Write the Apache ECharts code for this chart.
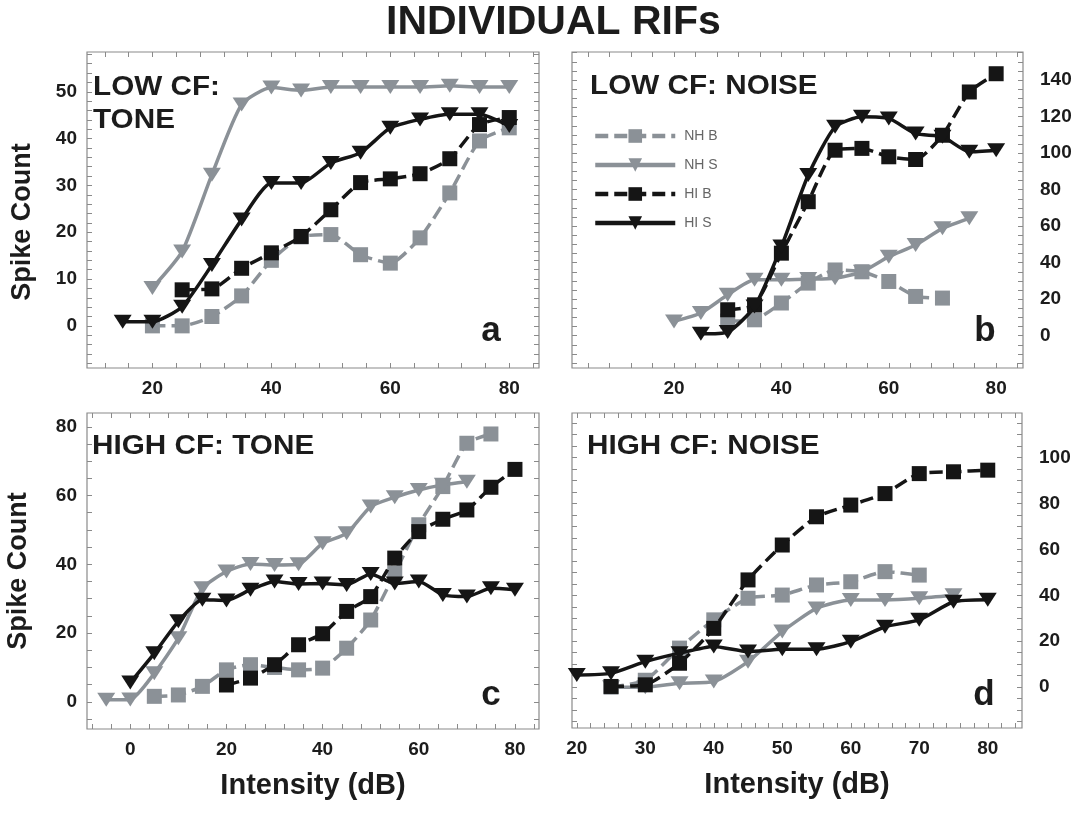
<!DOCTYPE html>
<html>
<head>
<meta charset="utf-8">
<script src="https://cdn.jsdelivr.net/npm/echarts@6/dist/echarts.min.js"></script>
<style>
html,body{margin:0;padding:0;background:#ffffff;}
#chart{width:1082px;height:815px;}
</style>
</head>
<body>
<div id="chart"></div>
<script>
// ---------- DATA ----------
const seriesNames = ['NH B', 'NH S', 'HI B', 'HI S'];

// Panel a: LOW CF: TONE
const aNHBx = [20,25,30,35,40,45,50,55,60,65,70,75,80];
const aNHBy = [0,0,2,6.4,14,19,19.5,15.2,13.4,18.8,28.4,39.5,42.3];
const aNHSx = [20,25,30,35,40,45,50,55,60,65,70,75,80];
const aNHSy = [8.1,15.9,32.3,47.3,50.9,50.3,51,51,51,51,51.3,51,51];
const aHIBx = [25,30,35,40,45,50,55,60,65,70,75,80];
const aHIBy = [7.7,7.9,12.3,15.6,19.1,24.8,30.6,31.4,32.5,35.7,43,44.5];
const aHISx = [15,20,25,30,35,40,45,50,55,60,65,70,75,80];
const aHISy = [0.9,0.9,4.1,13,22.7,30.5,30.5,34.8,37,42.3,44.1,45.2,45.2,42.7];

// Panel b: LOW CF: NOISE
const bNHBx = [30,35,40,45,50,55,60,65,70];
const bNHBy = [8,8.7,17.9,28.8,36,35,29.7,21.5,20.6];
const bNHSx = [20,25,30,35,40,45,50,55,60,65,70,75];
const bNHSy = [7.8,12.4,22.4,30.6,30.6,31,31.5,35,43.3,49.7,58.8,64.3];
const bHIBx = [30,35,40,45,50,55,60,65,70,75,80];
const bHIBy = [14.2,16.9,45.2,73.4,101.6,102.6,98,96.5,109.8,133.5,143.5];
const bHISx = [25,30,35,40,45,50,55,60,65,70,75,80];
const bHISy = [1,2,16,48.8,88,114.4,119.9,119,110.7,109,100.7,101.6];

// Panel c: HIGH CF: TONE
const cNHBx = [5,10,15,20,25,30,35,40,45,50,55,60,65,70,75];
const cNHBy = [1.6,2,4.5,9.3,10.8,10,9.3,9.8,15.6,23.8,37.4,51.5,62.6,75.2,77.9];
const cNHSx = [-5,0,5,10,15,20,25,30,35,40,45,50,55,60,65,70];
const cNHSy = [0.6,0.7,8.3,18.5,33,37.9,40.1,39.8,40,46.1,49,56.8,59.5,61.6,63.1,64];
const cHIBx = [20,25,30,35,40,45,50,55,60,65,70,75,80];
const cHIBy = [4.9,6.9,10.8,16.6,19.8,26.3,30.6,41.8,49.5,53.1,55.8,62.4,67.6];
const cHISx = [0,5,10,15,20,25,30,35,40,45,50,55,60,65,70,75,80];
const cHISy = [5.6,14.1,23.4,29.7,29.5,32.6,35,34.3,34.4,34,37.2,34.4,35,31.1,30.6,33,32.6];

// Panel d: HIGH CF: NOISE
const dNHBx = [25,30,35,40,45,50,55,60,65,70];
const dNHBy = [0,3,17,29.3,38.7,40.1,44.5,45.9,50.3,48.8];
const dNHSx = [25,30,35,40,45,50,55,60,65,70,75];
const dNHSy = [0,0,1.7,2.4,11.1,24.2,34.3,38,38,38.7,40];
const dHIBx = [25,30,35,40,45,50,55,60,65,70,75,80];
const dHIBy = [0.3,1,10.4,25.6,46.7,61.9,74.2,79.3,84.3,93,93.8,94.5];
const dHISx = [20,25,30,35,40,45,50,55,60,65,70,75,80];
const dHISy = [5.3,6,11.1,14.8,17.7,15.5,16.5,16.5,19.8,26.3,29.3,37.2,38.1];

// Tick labels
const xLabelsA = [20,40,60,80];
const yLabelsA = [0,10,20,30,40,50];
const xLabelsB = [20,40,60,80];
const yLabelsB = [0,20,40,60,80,100,120,140];
const xLabelsC = [0,20,40,60,80];
const yLabelsC = [0,20,40,60,80];
const xLabelsD = [20,30,40,50,60,70,80];
const yLabelsD = [0,20,40,60,80,100];

const panelTitles = ['LOW CF:\nTONE', 'LOW CF: NOISE', 'HIGH CF: TONE', 'HIGH CF: NOISE'];
const panelLetters = ['a', 'b', 'c', 'd'];
const mainTitle = 'INDIVIDUAL RIFs';
const yAxisTitle = 'Spike Count';
const xAxisTitle = 'Intensity (dB)';

// ---------- BUILD ----------
const FONT = '"Liberation Sans", Arial, Helvetica, sans-serif';
const GRAY = '#8b9197';
const BLACK = '#151515';
const TXT = '#1c1c1c';
const FRAME = '#8a8a8a';

function zip(xs, ys) { return xs.map((x, i) => [x, ys[i]]); }
function tickRange(min, max, step) {
  const out = [];
  for (let v = Math.ceil(min / step) * step; v <= max + 1e-9; v += step) out.push(+v.toFixed(6));
  return out;
}

const styleOf = {
  'NH B': { color: GRAY, type: [13, 6], symbol: 'rect', size: 15, rot: 0 },
  'NH S': { color: GRAY, type: 'solid', symbol: 'triangle', size: [18, 14], rot: 180 },
  'HI B': { color: BLACK, type: [13, 6], symbol: 'rect', size: 15, rot: 0 },
  'HI S': { color: BLACK, type: 'solid', symbol: 'triangle', size: [18, 14], rot: 180 }
};

const panels = [
  { grid: { left: 87, top: 52, width: 452, height: 316 }, xMin: 9, xMax: 85, yMin: -9, yMax: 58.5,
    xLabels: xLabelsA, yLabels: yLabelsA, xStep: 4, yStep: 2, ySide: 'left', yName: yAxisTitle, xName: '',
    namePad: [0, 24, 0, 0], nameGap: 51,
    data: [zip(aNHBx, aNHBy), zip(aNHSx, aNHSy), zip(aHIBx, aHIBy), zip(aHISx, aHISy)] },
  { grid: { left: 572, top: 52, width: 451, height: 316 }, xMin: 1, xMax: 85, yMin: -17.7, yMax: 155.4,
    xLabels: xLabelsB, yLabels: yLabelsB, xStep: 4, yStep: 5, ySide: 'right', yName: '', xName: '',
    namePad: 0, nameGap: 55,
    data: [zip(bNHBx, bNHBy), zip(bNHSx, bNHSy), zip(bHIBx, bHIBy), zip(bHISx, bHISy)] },
  { grid: { left: 87, top: 413, width: 452, height: 316 }, xMin: -9, xMax: 85, yMin: -7.9, yMax: 84,
    xLabels: xLabelsC, yLabels: yLabelsC, xStep: 4, yStep: 5, ySide: 'left', yName: yAxisTitle, xName: xAxisTitle,
    namePad: 0, nameGap: 55,
    data: [zip(cNHBx, cNHBy), zip(cNHSx, cNHSy), zip(cHIBx, cHIBy), zip(cHISx, cHISy)] },
  { grid: { left: 572, top: 413, width: 450, height: 315 }, xMin: 19.3, xMax: 85, yMin: -17.8, yMax: 119.4,
    xLabels: xLabelsD, yLabels: yLabelsD, xStep: 2, yStep: 5, ySide: 'right', yName: '', xName: xAxisTitle,
    namePad: 0, nameGap: 55,
    data: [zip(dNHBx, dNHBy), zip(dNHSx, dNHSy), zip(dHIBx, dHIBy), zip(dHISx, dHISy)] }
];

const grids = [], xAxes = [], yAxes = [], series = [];
const labelStyle = { fontSize: 19, fontWeight: 'bold', color: TXT, fontFamily: FONT };
const tickStyle = { color: FRAME, width: 1 };

panels.forEach((p, i) => {
  grids.push(Object.assign({ show: true, borderColor: FRAME, borderWidth: 1.2, backgroundColor: 'transparent', containLabel: false }, p.grid));
  const xTicks = tickRange(p.xMin, p.xMax, p.xStep);
  const yTicks = tickRange(p.yMin, p.yMax, p.yStep);
  xAxes.push({
    type: 'value', gridIndex: i, position: 'bottom', min: p.xMin, max: p.xMax,
    axisLine: { show: false, onZero: false }, splitLine: { show: false },
    axisTick: { show: true, inside: true, length: 5, customValues: xTicks, lineStyle: tickStyle },
    axisLabel: Object.assign({ show: true, margin: 11, customValues: p.xLabels }, labelStyle),
    name: p.xName, nameLocation: 'middle', nameGap: 42,
    nameTextStyle: { fontSize: 29, fontWeight: 'bold', color: TXT, fontFamily: FONT }
  });
  xAxes.push({
    type: 'value', gridIndex: i, position: 'top', min: p.xMin, max: p.xMax,
    axisLine: { show: false, onZero: false }, splitLine: { show: false },
    axisTick: { show: true, inside: true, length: 5, customValues: xTicks, lineStyle: tickStyle },
    axisLabel: { show: false }
  });
  const other = p.ySide === 'left' ? 'right' : 'left';
  yAxes.push({
    type: 'value', gridIndex: i, position: p.ySide, min: p.yMin, max: p.yMax,
    axisLine: { show: false, onZero: false }, splitLine: { show: false },
    axisTick: { show: true, inside: true, length: 5, customValues: yTicks, lineStyle: tickStyle },
    axisLabel: Object.assign({ show: true, margin: p.ySide === 'left' ? 10 : 17, customValues: p.yLabels }, labelStyle),
    name: p.yName, nameLocation: 'middle', nameGap: p.nameGap, nameRotate: 90,
    nameTextStyle: { fontSize: 27, fontWeight: 'bold', color: TXT, fontFamily: FONT, padding: p.namePad }
  });
  yAxes.push({
    type: 'value', gridIndex: i, position: other, min: p.yMin, max: p.yMax,
    axisLine: { show: false, onZero: false }, splitLine: { show: false },
    axisTick: { show: true, inside: true, length: 5, customValues: yTicks, lineStyle: tickStyle },
    axisLabel: { show: false }
  });
  seriesNames.forEach((nm, k) => {
    const s = styleOf[nm];
    series.push({
      type: 'line', name: nm, xAxisIndex: 2 * i, yAxisIndex: 2 * i,
      data: p.data[k], smooth: 0.2, symbol: s.symbol, symbolSize: s.size, symbolRotate: s.rot,
      showAllSymbol: true, clip: false,
      lineStyle: { color: s.color, width: 3.5, type: s.type },
      itemStyle: { color: s.color, borderWidth: 0 },
      emphasis: { disabled: true },
      z: 2 + k
    });
  });
});

const graphics = [];
const titlePos = [[93, 87.5], [590, 86.3], [92, 446.7], [587, 446.7]];
panelTitles.forEach((t, i) => {
  t.split('\n').forEach((ln, j) => {
    graphics.push({
      type: 'text', x: titlePos[i][0], y: titlePos[i][1] + j * 33.5, scaleX: 1.1, silent: true,
      style: { text: ln, fontSize: 27, fontWeight: 'bold', fontFamily: FONT, fill: TXT, align: 'left', verticalAlign: 'middle' }
    });
  });
});
const letterPos = [[491, 331], [985, 331], [491, 695], [984, 695]];
panelLetters.forEach((l, i) => {
  graphics.push({
    type: 'text', x: letterPos[i][0], y: letterPos[i][1], silent: true,
    style: { text: l, fontSize: 35, fontWeight: 'bold', fontFamily: FONT, fill: TXT, align: 'center', verticalAlign: 'middle' }
  });
});

const option = {
  backgroundColor: '#ffffff',
  animation: false,
  title: {
    text: mainTitle, left: 386, top: 2, padding: 0,
    textStyle: { fontSize: 41, fontWeight: 'bold', color: TXT, fontFamily: FONT }
  },
  legend: {
    data: seriesNames, orient: 'vertical', left: 588, top: 124,
    itemWidth: 80, itemHeight: 17, itemGap: 15,
    lineStyle: { width: 4.5 },
    textStyle: { color: '#666666', fontSize: 14, fontFamily: FONT, padding: [0, 0, 0, 4] },
    selectedMode: false
  },
  grid: grids,
  xAxis: xAxes,
  yAxis: yAxes,
  series: series,
  graphic: graphics
};

const chart = echarts.init(document.getElementById('chart'), null, { renderer: 'canvas' });
chart.setOption(option);
</script>
</body>
</html>
